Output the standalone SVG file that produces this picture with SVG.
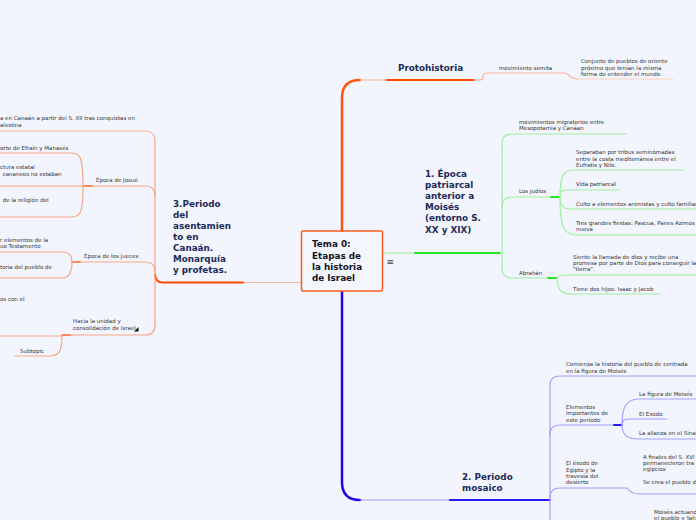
<svg xmlns="http://www.w3.org/2000/svg" width="696" height="520" viewBox="0 0 696 520">
<style>
.t{font-family:"DejaVu Sans","Liberation Sans",sans-serif;font-size:5.5px;fill:#333}
.h{font-family:"DejaVu Sans","Liberation Sans",sans-serif;font-size:8.8px;font-weight:bold;fill:#1c2a57}
.c{font-family:"DejaVu Sans","Liberation Sans",sans-serif;font-size:8.8px;font-weight:bold;fill:#141420}
.ln{fill:none;stroke-linecap:round}
.lo{stroke:#fbb49a;stroke-width:1.2}
.lo2{stroke:#fcd0c0;stroke-width:1.2}
.lol{stroke:#f9a585;stroke-width:1.2}
.oo{stroke:#ff5511;stroke-width:2.5}
.ot{stroke:#ff4a00;stroke-width:2}
.ot2{stroke:#fb8a5c;stroke-width:2}
.lg{stroke:#9ef09e;stroke-width:1.2}
.gt{stroke:#22e622;stroke-width:2}
.lb{stroke:#a0a0ff;stroke-width:1.2}
.bb{stroke:#2200ee;stroke-width:2.5}
.bt{stroke:#2a1af0;stroke-width:2}
</style>
<rect x="0" y="0" width="696" height="520" fill="#f2f5fd"/>
<g id="connectors">
  <path class="ln oo" d="M342,231 L342,98 Q342,80 360,80"/>
  <path class="ln lo" d="M360,80 L387,80"/>
  <path class="ln ot" d="M387,80 L474,80"/>
  <path class="ln lo" d="M474,80 L480,80 Q483,80 483,77 L483,76 Q483,73 487,73 L563,73 Q567,73 570,76.5 Q573,79 578,79"/>
  <path class="ln lo2" d="M578,79 L673,79"/>
  <path class="ln bb" d="M342,291 L342,482 Q342,500 360,500"/>
  <path class="ln lb" d="M360,500 L450,500"/>
  <path class="ln bt" d="M450,500 L550,500"/>
  <path class="ln lb" d="M550,520 L550,386 Q550,376 560,376 L696,376"/>
  <path class="ln lb" d="M550,435 Q550,425 560,425 L614,425"/>
  <path class="ln bt" d="M614,425 L622,425"/>
  <path class="ln lb" d="M622,425 C622,405 627,399 640,399 L696,399"/>
  <path class="ln lb" d="M622,425 C622,420 624,419 632,419 L667,419"/>
  <path class="ln lb" d="M622,425 C622,434 626,439 638,439 L696,439"/>
  <path class="ln lb" d="M550,498 Q550,488 560,488 L627,488 Q631,494 640,494 L696,494"/>
  <path class="ln lg" d="M382,253 L415,253"/>
  <path class="ln gt" d="M415,253 L500,253"/>
  <path class="ln lg" d="M502,144 L502,268"/>
  <path class="ln lg" d="M502,144 Q502,134 512,134 L626,134"/>
  <path class="ln lg" d="M502,207 Q502,197 512,197 L551,197"/>
  <path class="ln gt" d="M551,197 L560,197"/>
  <path class="ln lg" d="M560,197 C560,176 563,170 575,170 L683,170"/>
  <path class="ln lg" d="M560,197 C560,191 562,190 570,190 L620,190"/>
  <path class="ln lg" d="M560,197 C560,206 563,209 572,209 L696,209"/>
  <path class="ln lg" d="M560,197 C560,229 564,235 578,235 L696,235"/>
  <path class="ln lg" d="M502,268 Q502,278 512,278 L548,278"/>
  <path class="ln gt" d="M548,278 L557,278"/>
  <path class="ln lg" d="M557,278 C557,276 560,275 568,275 L696,275"/>
  <path class="ln lg" d="M557,278 C557,290 561,294 572,294 L660,294"/>
  <path class="ln lo" d="M301,282.5 L243,282.5"/>
  <path class="ln ot" d="M243,282.5 L163,282.5 Q155,282.5 155,274"/>
  <path class="ln lol" d="M155,141 L155,325"/>
  <path class="ln lo" d="M155,141 Q155,131 145,131 L0,131"/>
  <path class="ln lol" d="M155,196 Q155,186 145,186 L92,186"/>
  <path class="ln ot2" d="M92,186 L83,186"/>
  <path class="ln lol" d="M83,186 C83,160 81,153 72,153 L0,153"/>
  <path class="ln lol" d="M83,186 L0,186"/>
  <path class="ln lol" d="M83,186 C83,211 81,217 72,217 L0,217"/>
  <path class="ln lol" d="M155,272 Q155,262 145,262 L80,262"/>
  <path class="ln ot2" d="M80,262 L72,262"/>
  <path class="ln lol" d="M72,262 C72,255 69,252 62,252 L0,252"/>
  <path class="ln lol" d="M72,262 C72,272 69,278 62,278 L0,278"/>
  <path class="ln lol" d="M155,325 Q155,335 145,335 L70,335"/>
  <path class="ln ot2" d="M70,335 L62,335"/>
  <path class="ln lol" d="M62,336 L0,336"/>
  <path class="ln lol" d="M62,336 C62,351 59,356 50,356 L15,356"/>
</g>
<g id="node-tema0">
  <rect x="301.5" y="231" width="81" height="60" rx="1.5" fill="#f4f6fd" stroke="#ff5a1f" stroke-width="1.5"/>
  <text class="c" x="312" y="247.3">Tema 0:</text>
  <text class="c" x="312" y="258.6">Etapas de</text>
  <text class="c" x="312" y="269.9">la historia</text>
  <text class="c" x="312" y="281.2">de Israel</text>
  <text x="386.5" y="264.5" style="font-family:'DejaVu Sans',sans-serif;font-size:9px;fill:#444">≡</text>
</g>
<g id="node-protohistoria">
  <text class="h" x="398" y="71">Protohistoria</text>
</g>
<g id="node-movimiento-semita"><text class="t" x="499" y="70">movimiento semita</text></g>
<g id="node-conjunto">
  <text class="t" x="581" y="63">Conjunto de pueblos de oriente</text>
  <text class="t" x="581" y="69.7">próximo que tenían la misma</text>
  <text class="t" x="581" y="76.3">forma de entender el mundo</text>
</g>
<g id="node-epoca-patriarcal">
  <text class="h" x="425" y="176.5">1. Época</text>
  <text class="h" x="425" y="187.7">patriarcal</text>
  <text class="h" x="425" y="198.9">anterior a</text>
  <text class="h" x="425" y="210.1">Moisés</text>
  <text class="h" x="425" y="221.3">(entorno S.</text>
  <text class="h" x="425" y="232.5">XX y XIX)</text>
</g>
<g id="node-migratorios">
  <text class="t" x="519" y="124">movimientos migratorios entre</text>
  <text class="t" x="519" y="130">Mesopotamia y Canáan</text>
</g>
<g id="node-judios"><text class="t" x="519" y="193">Los judíos</text></g>
<g id="node-separaban">
  <text class="t" x="576" y="154.3">Separaban por tribus seminómadas</text>
  <text class="t" x="576" y="160.5">entre la costa mediterránea entre el</text>
  <text class="t" x="576" y="166.7">Eufratis y Nilo.</text>
</g>
<g id="node-vida"><text class="t" x="576" y="185.7">Vida patriarcal</text></g>
<g id="node-culto"><text class="t" x="576" y="206">Culto a elementos animistas y culto familiar</text></g>
<g id="node-fiestas">
  <text class="t" x="576" y="225.3">Tres grandes fiestas: Pascua, Panes Azimos y</text>
  <text class="t" x="576" y="231.3">nueva</text>
</g>
<g id="node-abrahan"><text class="t" x="519" y="274.7">Abrahán</text></g>
<g id="node-siente">
  <text class="t" x="573" y="258.7">Siente la llamada de dios y recibe una</text>
  <text class="t" x="573" y="265">promesa por parte de Dios para conseguir la</text>
  <text class="t" x="573" y="271.3">"tierra".</text>
</g>
<g id="node-hijos"><text class="t" x="573" y="291">Tiene dos hijos: Isaac y Jacob</text></g>
<g id="node-periodo-mosaico">
  <text class="h" x="462" y="480">2. Periodo</text>
  <text class="h" x="462" y="491.2">mosaico</text>
</g>
<g id="node-comienza">
  <text class="t" x="566" y="366.3">Comienza la historia del pueblo de centrada</text>
  <text class="t" x="566" y="373">en la figura de Moisés</text>
</g>
<g id="node-elementos">
  <text class="t" x="566" y="408.7">Elementos</text>
  <text class="t" x="566" y="415.4">importantes de</text>
  <text class="t" x="566" y="422.1">este período</text>
</g>
<g id="node-figura"><text class="t" x="639" y="396">La figura de Moisés</text></g>
<g id="node-exodo"><text class="t" x="639" y="415.7">El Éxodo</text></g>
<g id="node-alianza"><text class="t" x="639" y="435">La alianza en el Sinaí</text></g>
<g id="node-exodo-egipto">
  <text class="t" x="566" y="465.3">El éxodo de</text>
  <text class="t" x="566" y="471.6">Egipto y la</text>
  <text class="t" x="566" y="477.9">travesía del</text>
  <text class="t" x="566" y="484.2">desierto</text>
</g>
<g id="node-finales">
  <text class="t" x="643" y="458.7">A finales del S. XVI</text>
  <text class="t" x="643" y="465">permanecieron tra</text>
  <text class="t" x="643" y="471.3">egipcios</text>
  <text class="t" x="643" y="484.3">Se crea el pueblo d</text>
</g>
<g id="node-moises-actuando">
  <text class="t" x="654" y="513.7">Moisés actuand</text>
  <text class="t" x="654" y="519.5">el pueblo y Yah</text>
</g>
<g id="node-asentamiento">
  <text class="h" x="173" y="206.5">3.Periodo</text>
  <text class="h" x="173" y="217.5">del</text>
  <text class="h" x="173" y="228.5">asentamien</text>
  <text class="h" x="173" y="239.5">to en</text>
  <text class="h" x="173" y="250.5">Canaán.</text>
  <text class="h" x="173" y="261.5">Monarquía</text>
  <text class="h" x="173" y="272.5">y profetas.</text>
</g>
<g id="node-canaan">
  <text class="t" x="0" y="120.3">a en Canaán a partir del S. XII tras conquistas en</text>
  <text class="t" x="0" y="126.7">alestina</text>
</g>
<g id="node-josue"><text class="t" x="96" y="182">Época de Josué</text></g>
<g id="node-efrain"><text class="t" x="0" y="150.3">orte de Efraín y Manasés</text></g>
<g id="node-estatal">
  <text class="t" x="0" y="168.7">ctura estatal</text>
  <text class="t" x="2.7" y="176">cananeos no estaban</text>
</g>
<g id="node-religion"><text class="t" x="2.7" y="202">de la religión del</text></g>
<g id="node-jueces"><text class="t" x="84" y="258">Época de los jueces</text></g>
<g id="node-elementos-at">
  <text class="t" x="0" y="242">r elementos de la</text>
  <text class="t" x="0" y="247.7">uo Testamento</text>
</g>
<g id="node-historia-pueblo"><text class="t" x="0" y="268.7">toria del pueblo de</text></g>
<g id="node-con-el"><text class="t" x="0" y="301.3">os con el</text></g>
<g id="node-unidad">
  <text class="t" x="73" y="322.7">Hacia la unidad y</text>
  <text class="t" x="73" y="330">consolidación de Israel</text>
  <polygon points="134,331.5 138.5,331.5 138.5,327" fill="#111"/>
</g>
<g id="node-subtopic"><text class="t" x="20" y="352.7">Subtopic</text></g>
</svg>
